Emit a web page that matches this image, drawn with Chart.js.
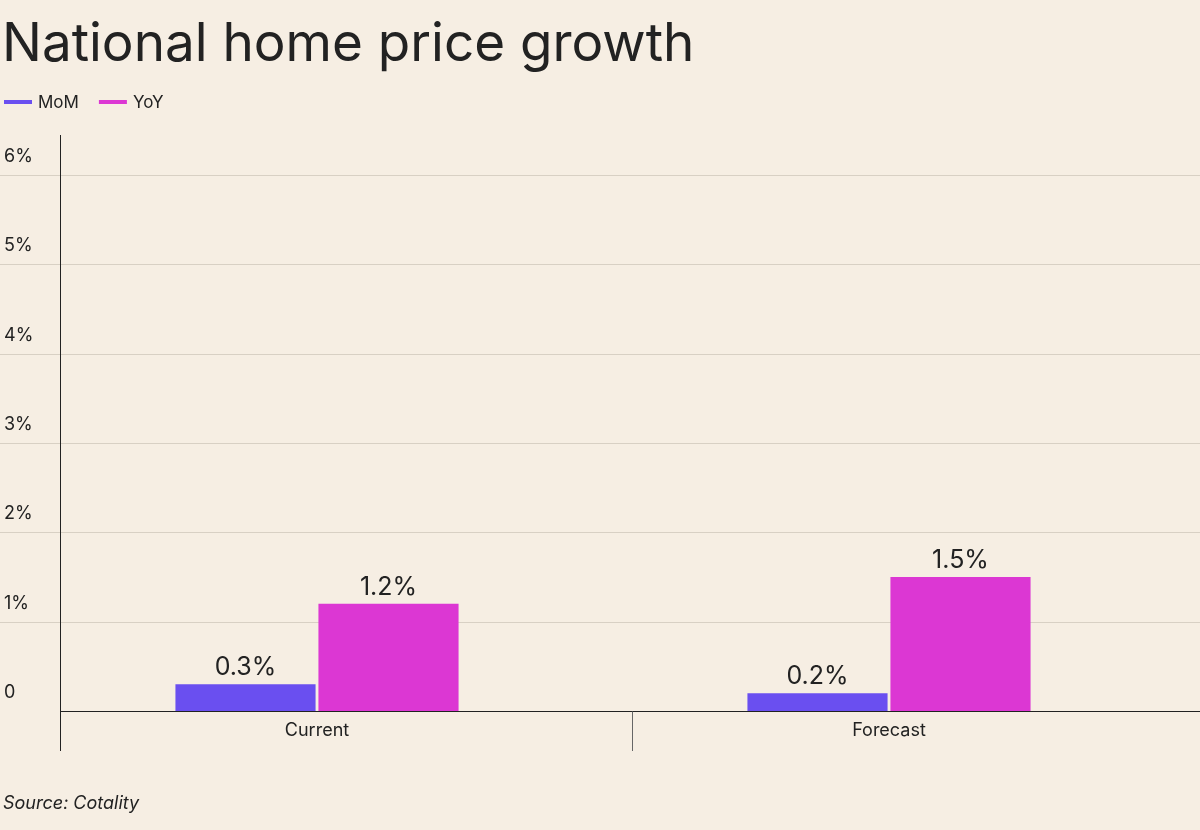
<!DOCTYPE html>
<html><head><meta charset="utf-8">
<script src="https://cdn.jsdelivr.net/npm/chart.js@4"></script>
<style>html,body{margin:0;background:#f6eee3;}canvas{display:block}</style>
</head><body>
<div style="width:1200px;height:830px;position:relative"><canvas id="c"></canvas></div>
<script>
const categories = ['Current', 'Forecast'];
const momValues = [0.3, 0.2];
const yoyValues = [1.2, 1.5];
const yTickLabels = ['0', '1%', '2%', '3%', '4%', '5%', '6%'];
const seriesNames = ['MoM', 'YoY'];
const colors = ['#6a4ff0', '#dc37d3'];
const txt = '#222';

const decor = {
  id: 'decor',
  beforeDatasetsDraw(chart) {
    const ctx = chart.ctx, y = chart.scales.y;
    ctx.save();
    ctx.strokeStyle = '#d8d0c4'; ctx.lineWidth = 1;
    for (let i = 1; i < yTickLabels.length; i++) {
      const py = Math.round(y.getPixelForValue(i)) + 0.5;
      ctx.beginPath(); ctx.moveTo(0, py); ctx.lineTo(1200, py); ctx.stroke();
    }
    ctx.restore();
  },
  afterDraw(chart) {
    const ctx = chart.ctx, y = chart.scales.y, x = chart.scales.x, a = chart.chartArea;
    ctx.save();
    ctx.fillStyle = txt;
    ctx.textBaseline = 'alphabetic';
    ctx.font = '53px Inter';
    ctx.fillText('National home price growth', 2, 61);
    ctx.font = '17px Inter';
    let lx = 4;
    seriesNames.forEach((n, i) => {
      ctx.fillStyle = colors[i];
      ctx.fillRect(lx, 100, 28, 4);
      ctx.fillStyle = txt;
      ctx.fillText(n, lx + 34, 108);
      lx += 34 + ctx.measureText(n).width + 20;
    });
    ctx.font = '18px Inter';
    yTickLabels.forEach((l, i) => ctx.fillText(l, 4, y.getPixelForValue(i) - 13));
    const y0 = Math.round(y.getPixelForValue(0)) + 0.5;
    ctx.strokeStyle = '#222'; ctx.lineWidth = 1;
    ctx.beginPath(); ctx.moveTo(60.5, a.top); ctx.lineTo(60.5, 751); ctx.stroke();
    ctx.beginPath(); ctx.moveTo(60, y0); ctx.lineTo(1200, y0); ctx.stroke();
    ctx.strokeStyle = '#666';
    ctx.beginPath(); ctx.moveTo(632.5, y0); ctx.lineTo(632.5, 751); ctx.stroke();
    ctx.textAlign = 'center';
    categories.forEach((c, i) => ctx.fillText(c, x.getPixelForValue(i), 736));
    ctx.font = '25px Inter';
    chart.data.datasets.forEach((ds, di) => {
      chart.getDatasetMeta(di).data.forEach((bar, i) => {
        ctx.fillText(ds.data[i] + '%', bar.x, bar.y - 9);
      });
    });
    ctx.textAlign = 'left';
    ctx.font = 'italic 18px Inter';
    ctx.fillText('Source: Cotality', 3, 809);
    ctx.restore();
  }
};

new Chart(document.getElementById('c'), {
  type: 'bar',
  data: {
    labels: categories,
    datasets: [
      { label: seriesNames[0], data: momValues, backgroundColor: colors[0] },
      { label: seriesNames[1], data: yoyValues, backgroundColor: colors[1] }
    ]
  },
  options: {
    responsive: true, maintainAspectRatio: false, animation: false,
    layout: { padding: { top: 135, left: 31, right: 25, bottom: 0 } },
    categoryPercentage: 0.5, barPercentage: 0.98,
    plugins: { legend: { display: false }, tooltip: { enabled: false } },
    scales: {
      x: {
        offset: true,
        grid: { display: false },
        border: { display: false },
        ticks: { display: false },
        afterFit: s => { s.height = 119; }
      },
      y: {
        min: 0, max: 6.45,
        ticks: { display: false, stepSize: 1 },
        grid: { display: false },
        border: { display: false },
        afterFit: s => { s.width = 0; }
      }
    }
  },
  plugins: [decor]
});
</script>
</body></html>
